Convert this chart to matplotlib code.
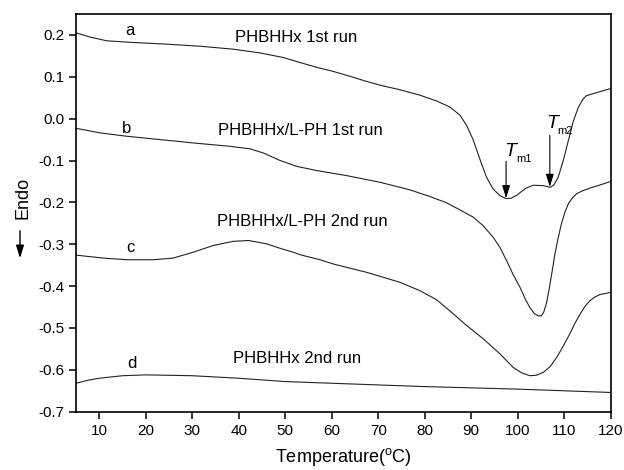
import matplotlib
matplotlib.use("Agg")
import matplotlib.pyplot as plt
from matplotlib.patches import FancyArrowPatch

plt.rcParams["font.family"] = ["Liberation Sans", "DejaVu Sans"]
plt.rcParams["axes.unicode_minus"] = False
plt.rcParams["mathtext.fontset"] = "custom"
plt.rcParams["mathtext.rm"] = "Liberation Sans"
plt.rcParams["mathtext.it"] = "Liberation Sans:italic"

# curve a: PHBHHx 1st run
a_t = [5, 8, 11.6, 17.3, 24.5, 31.7, 38.8, 44.6, 49.6, 53.2, 57, 60.3, 64, 67.5, 70.4,
       74.7, 79.0, 82.6, 85.4, 87.6, 89.0, 90.4, 91.9, 93.3, 94.7, 96.2, 97.5, 98.6,
       99.8, 100.8, 101.8, 103.3, 105.5, 107.0, 107.8, 108.7, 109.8, 110.9, 111.9,
       113.0, 114.0, 114.8, 116, 117.5, 120]
a_y = [0.205, 0.195, 0.186, 0.182, 0.178, 0.173, 0.166, 0.157, 0.146, 0.134, 0.122, 0.113,
       0.101, 0.089, 0.080, 0.069, 0.056, 0.042, 0.028, 0.008, -0.016, -0.050, -0.098,
       -0.140, -0.168, -0.184, -0.191, -0.190, -0.183, -0.174, -0.166, -0.159, -0.160,
       -0.164, -0.158, -0.140, -0.100, -0.052, -0.008, 0.026, 0.046, 0.055, 0.059,
       0.064, 0.072]

# curve b: PHBHHx/L-PH 1st run
b_t = [5, 10.2, 15.9, 23.1, 30.2, 38.1, 42.4, 45.3, 48.9, 52.5, 56.8, 63.2, 70.4, 76.8,
       81.1, 84.5, 87.6, 90.4, 92.5, 94.7, 96.2, 97.6, 99.0, 100.5, 101.6, 102.6, 103.6,
       104.4, 105.1, 105.6, 106.2, 106.8, 107.4, 108.0, 108.7, 109.4, 110.2, 110.9,
       111.8, 112.7, 114.0, 115.5, 117.5, 120]
b_y = [-0.023, -0.034, -0.042, -0.050, -0.058, -0.066, -0.072, -0.082, -0.100, -0.114,
       -0.124, -0.136, -0.152, -0.170, -0.186, -0.200, -0.218, -0.235, -0.255, -0.283,
       -0.308, -0.339, -0.372, -0.403, -0.430, -0.451, -0.466, -0.471, -0.471, -0.462,
       -0.440, -0.405, -0.365, -0.323, -0.285, -0.251, -0.222, -0.203, -0.189, -0.179,
       -0.172, -0.166, -0.159, -0.150]

# curve c: PHBHHx/L-PH 2nd run
c_t = [5, 10.9, 15.9, 21.6, 25.9, 30.2, 34.5, 38.8, 42.1, 46.0, 49, 51.7, 53.2, 57.5,
       60.3, 67.5, 74.7, 79.0, 82.6, 85.4, 89.0, 92.6, 96.2, 99.0, 100.8, 102.6, 104.0,
       105.5, 107.0, 108.4, 109.8, 111.2, 112.3, 113.4, 114.5, 115.5, 116.6, 117.7, 120]
c_y = [-0.326, -0.333, -0.337, -0.337, -0.333, -0.319, -0.303, -0.293, -0.291, -0.299,
       -0.310, -0.319, -0.325, -0.337, -0.347, -0.367, -0.391, -0.411, -0.433, -0.459,
       -0.494, -0.526, -0.562, -0.594, -0.607, -0.614, -0.613, -0.606, -0.592, -0.570,
       -0.543, -0.514, -0.489, -0.467, -0.448, -0.435, -0.426, -0.420, -0.415]

# curve d: PHBHHx 2nd run
d_t = [5, 7.5, 10, 15, 20, 30, 40, 50, 60, 80, 100, 120]
d_y = [-0.632, -0.625, -0.620, -0.614, -0.612, -0.614, -0.620, -0.628, -0.632, -0.640,
       -0.646, -0.654]

curves = [(a_t, a_y), (b_t, b_y), (c_t, c_y), (d_t, d_y)]
letters = ["a", "b", "c", "d"]
letter_pos = [(16.6, 0.211), (15.9, -0.023), (16.6, -0.307), (17.0, -0.586)]
names = ["PHBHHx 1st run", "PHBHHx/L-PH 1st run", "PHBHHx/L-PH 2nd run", "PHBHHx 2nd run"]
name_pos = [(52.4, 0.194), (53.2, -0.028), (53.7, -0.245), (52.6, -0.574)]

fig = plt.figure(figsize=(6.24, 4.70), dpi=100)
ax = fig.add_axes([0.1218, 0.124, 0.8569, 0.8462])

for t, y in curves:
    ax.plot(t, y, color="#222222", lw=0.8)

for s, (x, y) in zip(letters, letter_pos):
    ax.text(x, y, s, fontsize=12, ha="center", va="center")
for s, (x, y) in zip(names, name_pos):
    ax.text(x, y, s, fontsize=12, ha="center", va="center")

# melting peak markers
arrow_style = "-|>,head_length=0.55,head_width=0.17"
ax.annotate("", xy=(97.5, -0.190), xytext=(97.5, -0.102),
            arrowprops=dict(arrowstyle=arrow_style, color="black", lw=0.8,
                            mutation_scale=14, shrinkA=0, shrinkB=0))
ax.annotate("", xy=(106.9, -0.163), xytext=(106.9, -0.040),
            arrowprops=dict(arrowstyle=arrow_style, color="black", lw=0.8,
                            mutation_scale=14, shrinkA=0, shrinkB=0))
ax.text(97.1, -0.090, "T", fontsize=14, fontstyle="italic", ha="left", va="baseline")
ax.text(99.6, -0.104, "m1", fontsize=8, ha="left", va="baseline")
ax.text(106.1, -0.022, "T", fontsize=14, fontstyle="italic", ha="left", va="baseline")
ax.text(108.6, -0.037, "m2", fontsize=8, ha="left", va="baseline")

ax.set_xlim(5, 120)
ax.set_ylim(-0.7, 0.25)
ax.set_xticks(range(10, 121, 10))
ax.set_yticks([-0.7, -0.6, -0.5, -0.4, -0.3, -0.2, -0.1, 0.0, 0.1, 0.2])
ax.set_yticklabels(["-0.7", "-0.6", "-0.5", "-0.4", "-0.3", "-0.2", "-0.1", "0.0", "0.1", "0.2"])
ax.tick_params(direction="out", length=5, width=1.1, labelsize=11)
for sp in ax.spines.values():
    sp.set_linewidth(1.2)

ax.set_xlabel("Temperature($^{\\rm o}$C)", fontsize=13, labelpad=6)

fig.text(23 / 624, 1 - 197.5 / 470, "Endo", rotation=90, fontsize=13, ha="center", va="center")
fig.patches.append(FancyArrowPatch(
    (20 / 624, 1 - 228 / 470), (20 / 624, 1 - 261 / 470), transform=fig.transFigure,
    arrowstyle="-|>,head_length=0.55,head_width=0.17", mutation_scale=14,
    color="black", lw=1.0))

fig.savefig("out.png", dpi=100)
